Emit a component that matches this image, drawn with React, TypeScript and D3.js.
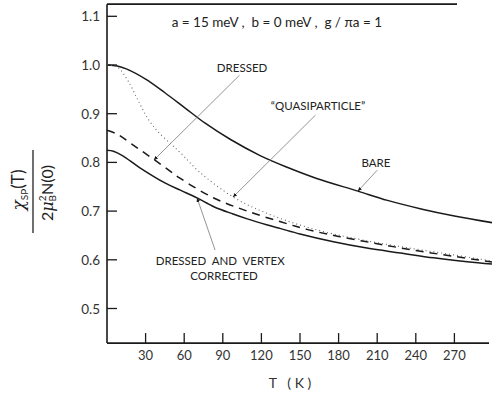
import React from "react";
import * as d3 from "d3";

// ---- data ----
const T_BARE = [0, 8, 15, 30, 45, 61, 76, 96, 119, 140, 163, 195, 218, 245, 270, 300];
const V_BARE = [1.0, 0.998, 0.992, 0.971, 0.943, 0.911, 0.881, 0.847, 0.814, 0.790, 0.767, 0.741, 0.722, 0.704, 0.690, 0.676];

const T_QUASI = [0, 8, 16, 24, 32, 40, 50, 57, 72, 98, 121, 158, 200, 240, 270, 300];
const V_QUASI = [1.0, 0.996, 0.969, 0.928, 0.889, 0.862, 0.837, 0.820, 0.780, 0.729, 0.699, 0.665, 0.640, 0.622, 0.610, 0.597];

const T_DRESSED = [0, 8, 19, 37, 45, 57, 83, 109, 135, 156, 180, 210, 240, 270, 300];
const V_DRESSED = [0.866, 0.858, 0.838, 0.805, 0.790, 0.767, 0.727, 0.700, 0.678, 0.662, 0.648, 0.633, 0.619, 0.607, 0.595];

const T_VERTEX = [0, 5, 12, 25, 45, 57, 70, 83, 98, 109, 124, 135, 150, 176, 202, 228, 254, 280, 300];
const V_VERTEX = [0.825, 0.823, 0.814, 0.790, 0.758, 0.743, 0.727, 0.709, 0.694, 0.684, 0.672, 0.664, 0.653, 0.637, 0.624, 0.614, 0.604, 0.596, 0.591];

const X_TICKS = [30, 60, 90, 120, 150, 180, 210, 240, 270];
const Y_TICKS = [0.5, 0.6, 0.7, 0.8, 0.9, 1.0, 1.1];
const Y_TICK_LABELS = ["0.5", "0.6", "0.7", "0.8", "0.9", "1.0", "1.1"];

// annotations
const ANN_LABELS = ["DRESSED", "\u201CQUASIPARTICLE\u201D", "BARE"];
const ANN_LABEL_T = [105, 164, 209];
const ANN_LABEL_V = [0.986, 0.908, 0.790];
const ANN_FROM_T = [103, 162, 210];
const ANN_FROM_V = [0.979, 0.897, 0.784];
const ANN_TIP_T = [36.5, 98, 195];
const ANN_TIP_V = [0.805, 0.729, 0.741];

const DAVC_LINES = ["DRESSED  AND  VERTEX", "CORRECTED"];
const DAVC_T = [88, 91];
const DAVC_V = [0.589, 0.558];
const DAVC_FROM = [84, 0.62];
const DAVC_TIP = [70, 0.727];

const TITLE = "a = 15 meV ,  b = 0 meV ,  g / \u03C0a = 1";

const W = 492;
const H = 402;

export default function App() {
  const x = d3.scaleLinear().domain([0, 300]).range([107, 493]);
  const y = d3.scaleLinear().domain([0.5, 1.0]).range([308.5, 65]);
  const yTop = y(1.125);
  const yBot = y(0.429);
  const x0 = x(0);

  const line = (ts: number[], vs: number[]) =>
    d3
      .line<number>()
      .x((_, i) => x(ts[i]))
      .y((v) => y(v))
      .curve(d3.curveCatmullRom.alpha(0.5))(vs) || "";

  const font = "Lato, 'Open Sans', sans-serif";
  const ink = "#1a1a1a";

  return (
    <svg
      width={W}
      height={H}
      viewBox={`0 0 ${W} ${H}`}
      style={{ position: "absolute", left: 0, top: 0, background: "#fff" }}
    >
      <defs>
        <marker id="arr" viewBox="0 0 10 10" refX="9" refY="5" markerWidth="5" markerHeight="5" orient="auto-start-reverse">
          <path d="M0,1 L10,5 L0,9 z" fill={ink} />
        </marker>
      </defs>
      <rect x={0} y={0} width={W} height={H} fill="#fff" />

      {/* frame */}
      <line x1={x0} y1={yTop} x2={x0} y2={yBot} stroke={ink} strokeWidth={1.6} />
      <line x1={x0} y1={yBot} x2={489} y2={yBot} stroke={ink} strokeWidth={1.6} />
      <line x1={x0} y1={yTop} x2={457} y2={yTop} stroke={ink} strokeWidth={1.6} />

      {/* y ticks */}
      {Y_TICKS.map((v, i) => (
        <g key={"yt" + i}>
          <line x1={x0} x2={x0 + 10} y1={y(v)} y2={y(v)} stroke={ink} strokeWidth={1.3} />
          <text x={x0 - 7} y={y(v) + 5} textAnchor="end" fontFamily={font} fontSize={13.5} fill="#333">
            {Y_TICK_LABELS[i]}
          </text>
        </g>
      ))}

      {/* x ticks */}
      {X_TICKS.map((t) => (
        <g key={"xt" + t}>
          <line x1={x(t)} x2={x(t)} y1={yBot} y2={yBot - 10} stroke={ink} strokeWidth={1.3} />
          <text x={x(t)} y={yBot + 17} textAnchor="middle" fontFamily={font} fontSize={13} fill="#333">
            {t}
          </text>
        </g>
      ))}

      {/* x label */}
      <text x={290} y={388} textAnchor="middle" fontFamily={font} fontSize={14} fill="#333" style={{ whiteSpace: "pre" }}>
        {"T   ( K )"}
      </text>

      {/* y label as fraction */}
      <g transform="translate(0,193) rotate(-90)" fontFamily={font} fill="#222">
        <text x={3} y={24} textAnchor="middle" fontSize={17}>
          <tspan fontStyle="italic" fontFamily="'DejaVu Serif', serif">{"\u03C7"}</tspan>
          <tspan fontSize={10} dy={4}>SP</tspan>
          <tspan dy={-4}>(T)</tspan>
        </text>
        <line x1={-40} x2={43} y1={33} y2={33} stroke="#222" strokeWidth={1.3} />
        <text x={0} y={53} textAnchor="middle" fontSize={16}>
          <tspan>2</tspan>
          <tspan fontFamily="'DejaVu Serif', serif" fontStyle="italic">{"\u03BC"}</tspan>
          <tspan fontSize={10} dy={-7}>2</tspan>
          <tspan fontSize={10} dx={-6} dy={10}>B</tspan>
          <tspan dy={-3}>N(0)</tspan>
        </text>
      </g>

      {/* title annotation */}
      <text x={x(132)} y={y(1.078)} textAnchor="middle" fontFamily={font} fontSize={13.5} fill="#222" style={{ whiteSpace: "pre" }}>
        {TITLE}
      </text>

      {/* curves */}
      <path d={line(T_BARE, V_BARE)} fill="none" stroke={ink} strokeWidth={1.5} />
      <path d={line(T_QUASI, V_QUASI)} fill="none" stroke="#666" strokeWidth={1.1} strokeDasharray="1 3" />
      <path d={line(T_DRESSED, V_DRESSED)} fill="none" stroke={ink} strokeWidth={1.5} strokeDasharray="8 6" />
      <path d={line(T_VERTEX, V_VERTEX)} fill="none" stroke={ink} strokeWidth={1.5} />

      {/* annotation arrows and labels */}
      {ANN_LABELS.map((lab, i) => (
        <g key={"ann" + i}>
          <line
            x1={x(ANN_FROM_T[i])}
            y1={y(ANN_FROM_V[i])}
            x2={x(ANN_TIP_T[i])}
            y2={y(ANN_TIP_V[i])}
            stroke="#888"
            strokeWidth={0.9}
            markerEnd="url(#arr)"
          />
          <text x={x(ANN_LABEL_T[i])} y={y(ANN_LABEL_V[i])} textAnchor="middle" fontFamily={font} fontSize={11.5} fill="#222">
            {lab}
          </text>
        </g>
      ))}
      <line
        x1={x(DAVC_FROM[0])}
        y1={y(DAVC_FROM[1])}
        x2={x(DAVC_TIP[0])}
        y2={y(DAVC_TIP[1])}
        stroke="#888"
        strokeWidth={0.9}
        markerEnd="url(#arr)"
      />
      {DAVC_LINES.map((l, i) => (
        <text key={"davc" + i} x={x(DAVC_T[i])} y={y(DAVC_V[i])} textAnchor="middle" fontFamily={font} fontSize={11.5} fill="#222" style={{ whiteSpace: "pre" }}>
          {l}
        </text>
      ))}
    </svg>
  );
}
